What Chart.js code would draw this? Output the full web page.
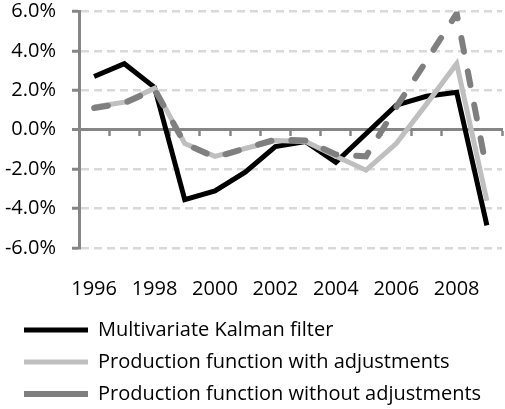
<!DOCTYPE html>
<html>
<head>
<meta charset="utf-8">
<script src="https://cdn.jsdelivr.net/npm/chart.js@4"></script>
<style>
  html, body { margin: 0; padding: 0; background: #ffffff; }
  #wrap { width: 505px; height: 409px; position: relative; }
</style>
</head>
<body>
<div id="wrap"><canvas id="c" width="505" height="409"></canvas></div>
<script>
const years = ['1996','1997','1998','1999','2000','2001','2002','2003','2004','2005','2006','2007','2008','2009'];
const kalman = [2.7, 3.35, 2.15, -3.55, -3.1, -2.15, -0.85, -0.6, -1.65, -0.2, 1.25, 1.7, 1.9, -4.85];
const prodWith = [1.15, 1.4, 2.1, -0.7, -1.35, -0.95, -0.55, -0.6, -1.35, -2.05, -0.7, 1.3, 3.35, -3.6];
const prodWithout = [1.1, 1.35, 2.05, -0.7, -1.4, -0.95, -0.5, -0.55, -1.25, -1.35, 1.15, 3.5, 5.9, -2.1];
const seriesNames = ['Multivariate Kalman filter', 'Production function with adjustments', 'Production function without adjustments'];
const yTicks = [-6, -4, -2, 0, 2, 4, 6];

const FONT = { family: '"Open Sans", sans-serif', size: 20 };
const AXIS = '#868686';

const legendShift = {
  id: 'legendShift',
  afterLayout(chart) {
    chart.legend.left += 12;
    chart.legend.top += 5;
  }
};

const ch = new Chart(document.getElementById('c'), {
  type: 'line',
  data: {
    labels: years,
    datasets: [
      { label: seriesNames[0], data: kalman, borderColor: '#000000', backgroundColor: '#000000', borderWidth: 5, pointRadius: 0, tension: 0, order: 3, borderCapStyle: 'butt', xAxisID: 'x' },
      { label: seriesNames[1], data: prodWith, borderColor: '#bfbfbf', backgroundColor: '#bfbfbf', borderWidth: 5, pointRadius: 0, tension: 0, order: 2, borderCapStyle: 'butt', xAxisID: 'x' },
      { label: seriesNames[2], data: prodWithout, borderColor: '#7f7f7f', backgroundColor: '#7f7f7f', borderWidth: 6, borderDash: [14, 20], borderCapStyle: 'round', pointRadius: 0, tension: 0, order: 1, xAxisID: 'x' }
    ]
  },
  options: {
    responsive: false,
    animation: false,
    devicePixelRatio: 1,
    layout: { padding: { top: 0, right: 3, bottom: 0, left: 0 } },
    scales: {
      y: {
        min: -6, max: 6,
        afterBuildTicks(scale) { scale.ticks = yTicks.map(v => ({ value: v })); },
        afterFit(scale) { scale.width = 79; scale.paddingTop = 11.5; scale.paddingBottom = 0; },
        ticks: {
          color: '#000000', font: FONT, padding: 16,
          callback: v => v.toFixed(1) + '%'
        },
        grid: {
          color: ctx => (ctx.tick && ctx.tick.value === 0) ? AXIS : '#d9d9d9',
          lineWidth: ctx => (ctx.tick && ctx.tick.value === 0) ? 3 : 2.5,
          drawTicks: true, tickLength: 7, tickColor: AXIS, tickWidth: 3
        },
        border: {
          display: true, color: AXIS, width: 3,
          dash: ctx => (ctx.tick && ctx.tick.value === 0) ? [] : [8, 5]
        }
      },
      x: {
        type: 'category',
        position: 'bottom',
        offset: true,
        afterFit(scale) { scale.height = 55; scale.paddingLeft = 0; scale.paddingRight = 0; },
        grid: { display: false, drawTicks: false },
        border: { display: false },
        ticks: {
          color: '#000000', font: FONT, padding: 29, autoSkip: false, maxRotation: 0,
          callback: (v, i) => (i % 2 === 0 ? years[i] : '')
        }
      },
      x0: {
        type: 'category',
        position: { y: 0 },
        offset: true,
        afterFit(scale) { scale.paddingLeft = 0; scale.paddingRight = 0; },
        grid: { display: true, offset: true, drawOnChartArea: false, drawTicks: true, tickLength: 5, tickColor: AXIS, tickWidth: 2.5 },
        border: { display: true, color: AXIS, width: 3 },
        ticks: { display: false }
      }
    },
    plugins: {
      legend: {
        position: 'bottom',
        align: 'start',
        labels: {
          font: FONT, color: '#000000', padding: 12,
          usePointStyle: true, pointStyle: 'line', pointStyleWidth: 64, boxHeight: 20,
          sort: (a, b) => a.datasetIndex - b.datasetIndex
        }
      },
      tooltip: { enabled: false }
    }
  },
  plugins: [legendShift]
});
</script>
</body>
</html>
